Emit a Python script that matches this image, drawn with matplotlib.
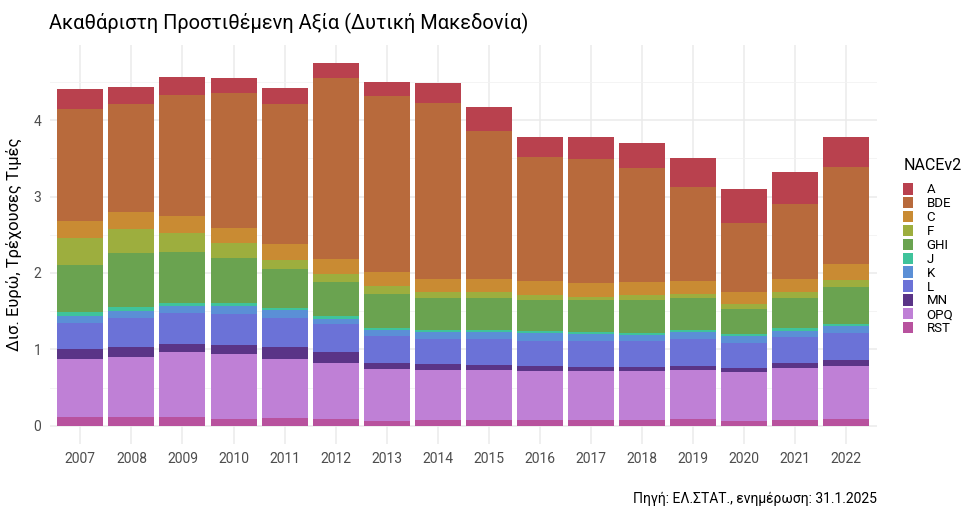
import matplotlib
matplotlib.use('Agg')
import matplotlib.pyplot as plt
from matplotlib.patches import Patch
import numpy as np

plt.rcParams['font.family'] = ['Roboto', 'DejaVu Sans']

years = [str(y) for y in range(2007, 2023)]

# τιμές ανά κλάδο (δισ. ευρώ), από κάτω προς τα πάνω
RST = [0.114, 0.110, 0.114, 0.088, 0.105, 0.084, 0.066, 0.070, 0.070, 0.070, 0.075, 0.075, 0.092, 0.062, 0.075, 0.092]
OPQ = [0.755, 0.793, 0.851, 0.850, 0.768, 0.733, 0.672, 0.663, 0.659, 0.646, 0.637, 0.637, 0.633, 0.637, 0.676, 0.689]
MN = [0.131, 0.127, 0.104, 0.122, 0.153, 0.148, 0.082, 0.075, 0.061, 0.061, 0.060, 0.060, 0.060, 0.060, 0.066, 0.075]
L = [0.340, 0.384, 0.410, 0.406, 0.388, 0.370, 0.350, 0.331, 0.349, 0.336, 0.337, 0.333, 0.354, 0.327, 0.344, 0.357]
K = [0.100, 0.091, 0.083, 0.096, 0.096, 0.062, 0.083, 0.091, 0.091, 0.100, 0.095, 0.082, 0.083, 0.084, 0.079, 0.088]
J = [0.044, 0.045, 0.044, 0.044, 0.035, 0.033, 0.026, 0.027, 0.027, 0.027, 0.026, 0.030, 0.031, 0.030, 0.035, 0.034]
GHI = [0.626, 0.706, 0.668, 0.589, 0.510, 0.455, 0.441, 0.418, 0.410, 0.409, 0.415, 0.432, 0.418, 0.331, 0.396, 0.480]
F = [0.347, 0.315, 0.248, 0.200, 0.118, 0.105, 0.113, 0.075, 0.079, 0.062, 0.044, 0.058, 0.057, 0.066, 0.083, 0.092]
C = [0.223, 0.222, 0.218, 0.193, 0.209, 0.190, 0.175, 0.170, 0.174, 0.183, 0.179, 0.170, 0.166, 0.153, 0.162, 0.210]
BDE = [1.465, 1.414, 1.585, 1.767, 1.825, 2.375, 2.308, 2.304, 1.941, 1.619, 1.623, 1.496, 1.226, 0.903, 0.990, 1.269]
A = [0.265, 0.230, 0.235, 0.195, 0.209, 0.188, 0.187, 0.258, 0.315, 0.262, 0.288, 0.323, 0.388, 0.441, 0.411, 0.393]

sectors = ['A', 'BDE', 'C', 'F', 'GHI', 'J', 'K', 'L', 'MN', 'OPQ', 'RST']
values = {'A': A, 'BDE': BDE, 'C': C, 'F': F, 'GHI': GHI, 'J': J,
          'K': K, 'L': L, 'MN': MN, 'OPQ': OPQ, 'RST': RST}
colors = {'A': '#B9414E', 'BDE': '#B86A3C', 'C': '#C98B33', 'F': '#9DAE3E',
          'GHI': '#6AA350', 'J': '#3FC39B', 'K': '#5B8FD6', 'L': '#6B72D7',
          'MN': '#5A3487', 'OPQ': '#BF80D6', 'RST': '#B8529E'}

fig = plt.figure(figsize=(9.67, 5.11), dpi=100)
ax = fig.add_axes([0.0514, 0.1315, 0.8555, 0.7814])

x = np.arange(len(years))
bottom = np.zeros(len(years))
for s in reversed(sectors):
    v = np.array(values[s])
    ax.bar(x, v, width=0.9, bottom=bottom, color=colors[s], linewidth=0, zorder=2)
    bottom += v

ax.set_xlim(-0.6, len(years) - 0.4)
ax.set_ylim(-0.237, 4.99)
ax.set_xticks(x)
ax.set_xticklabels(years)
ax.set_yticks([0, 1, 2, 3, 4])
ax.set_yticks([0.5, 1.5, 2.5, 3.5, 4.5], minor=True)
ax.grid(True, which='major', color='#EBEBEB', linewidth=1.1, zorder=0)
ax.grid(True, which='minor', axis='y', color='#F2F2F2', linewidth=0.6, zorder=0)
ax.set_axisbelow(True)
for sp in ax.spines.values():
    sp.set_visible(False)
ax.tick_params(which='both', length=0, labelsize=10, labelcolor='#4D4D4D', pad=6)

ax.set_ylabel('Δισ. Ευρώ, Τρέχουσες Τιμές', fontsize=12, labelpad=8)
fig.text(0.051, 0.955, 'Ακαθάριστη Προστιθέμενη Αξία (Δυτική Μακεδονία)',
         fontsize=14.4, ha='left', va='center')
fig.text(0.907, 0.010, 'Πηγή: ΕΛ.ΣΤΑΤ., ενημέρωση: 31.1.2025',
         fontsize=10, ha='right', va='bottom')

handles = [Patch(facecolor=colors[s], edgecolor='none') for s in sectors]
leg = fig.legend(handles, sectors, title='NACEv2', loc='upper left',
                 bbox_to_anchor=(0.934, 0.690), frameon=False,
                 fontsize=9.5, title_fontsize=11.5, handlelength=0.78,
                 handleheight=0.95, labelspacing=0.05, handletextpad=1.0,
                 borderaxespad=0, borderpad=0)
leg._legend_box.align = 'left'
leg._legend_box.sep = 7

fig.savefig('out.png', dpi=100)
